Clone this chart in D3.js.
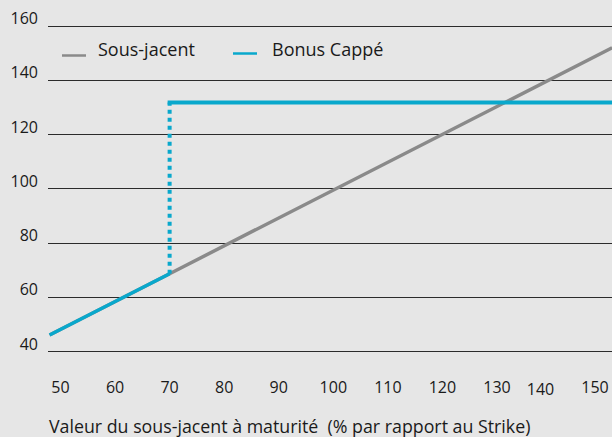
<!DOCTYPE html>
<html><head><meta charset="utf-8">
<script src="https://cdn.jsdelivr.net/npm/d3@7"></script>
<style>
html,body{margin:0;padding:0;background:#e6e6e6;}
svg{display:block;font-family:"Open Sans","DejaVu Sans",sans-serif;}
text{white-space:pre;}
</style></head>
<body>
<svg id="chart" width="612" height="437"></svg>
<script>
// ---- data ----
const yTicks = [40, 60, 80, 100, 120, 140, 160];
const xTicks = [50, 60, 70, 80, 90, 100, 110, 120, 130, 140, 150];
const sousJacentX = [48, 70, 151.1];
const sousJacentY = [45.9, 68.5, 151.8];
const bonusX = [48, 70, 70, 151.1];
const bonusY = [45.9, 68.5, 131.6, 131.6];
const legendLabels = ["Sous-jacent", "Bonus Cappé"];
const xTitle = "Valeur du sous-jacent à maturité  (% par rapport au Strike)";

// ---- layout ----
const W = 612, H = 437;
const gray = "#8a8a8a", blue = "#09a8cc";
const svg = d3.select("#chart");
svg.append("rect").attr("width", W).attr("height", H).attr("fill", "#e6e6e6");

const x = d3.scaleLinear().domain([50, 130]).range([60.5, 497]);
// axis label scale (labels in the reference are squeezed at the right end)
const xLab = d3.scaleLinear().domain([50, 130, 140, 150]).range([x(50), x(130), x(130) + 43.5, x(130) + 98]);
const y = d3.scaleLinear().domain([40, 160]).range([351, 25.5]);

// gridlines
svg.append("g").selectAll("line").data(yTicks).join("line")
  .attr("x1", 48).attr("x2", W)
  .attr("y1", d => Math.round(y(d)) + 0.5).attr("y2", d => Math.round(y(d)) + 0.5)
  .attr("stroke", "#2b2b2b").attr("stroke-width", 1);

// y labels
svg.append("g").selectAll("text").data(yTicks).join("text")
  .attr("x", 38).attr("y", d => y(d) - 1.5)
  .attr("text-anchor", "end").attr("font-size", 16).attr("fill", "#1a1a1a")
  .text(d => d);

// x labels
svg.append("g").selectAll("text").data(xTicks).join("text")
  .attr("x", d => xLab(d)).attr("y", d => d === 140 ? 394.5 : 393)
  .attr("text-anchor", "middle").attr("font-size", 16).attr("fill", "#1a1a1a")
  .text(d => d);

svg.append("text").attr("x", 49).attr("y", 433).attr("font-size", 17.8)
  .attr("fill", "#1a1a1a").text(xTitle);

const line = d3.line().x(d => x(d[0])).y(d => y(d[1]));

// Sous-jacent (gray), under blue
const sj = sousJacentX.map((v, i) => [v, sousJacentY[i]]);
svg.append("path").attr("d", line(sj)).attr("fill", "none")
  .attr("stroke", gray).attr("stroke-width", 3.5);

// Bonus Cappé
const bc = bonusX.map((v, i) => [v, bonusY[i]]);
svg.append("path").attr("d", line(bc.slice(0, 2))).attr("fill", "none")
  .attr("stroke", blue).attr("stroke-width", 3.5);
svg.append("path").attr("d", line(bc.slice(1, 3))).attr("fill", "none")
  .attr("stroke", blue).attr("stroke-width", 4).attr("stroke-dasharray", "4 4");
svg.append("path").attr("d", line(bc.slice(2))).attr("fill", "none")
  .attr("stroke", blue).attr("stroke-width", 4).attr("stroke-linecap", "square");

// legend
const lg = svg.append("g");
const legendItems = [
  {label: legendLabels[0], color: gray, x0: 62, ly: 55.5, tx: 98},
  {label: legendLabels[1], color: blue, x0: 233, ly: 53.5, tx: 272}
];
legendItems.forEach(it => {
  lg.append("line").attr("x1", it.x0).attr("x2", it.x0 + 24)
    .attr("y1", it.ly).attr("y2", it.ly).attr("stroke", it.color).attr("stroke-width", 2.5);
  lg.append("text").attr("x", it.tx).attr("y", 56).attr("font-size", 18)
    .attr("fill", "#1a1a1a").text(it.label);
});
</script>
</body></html>
